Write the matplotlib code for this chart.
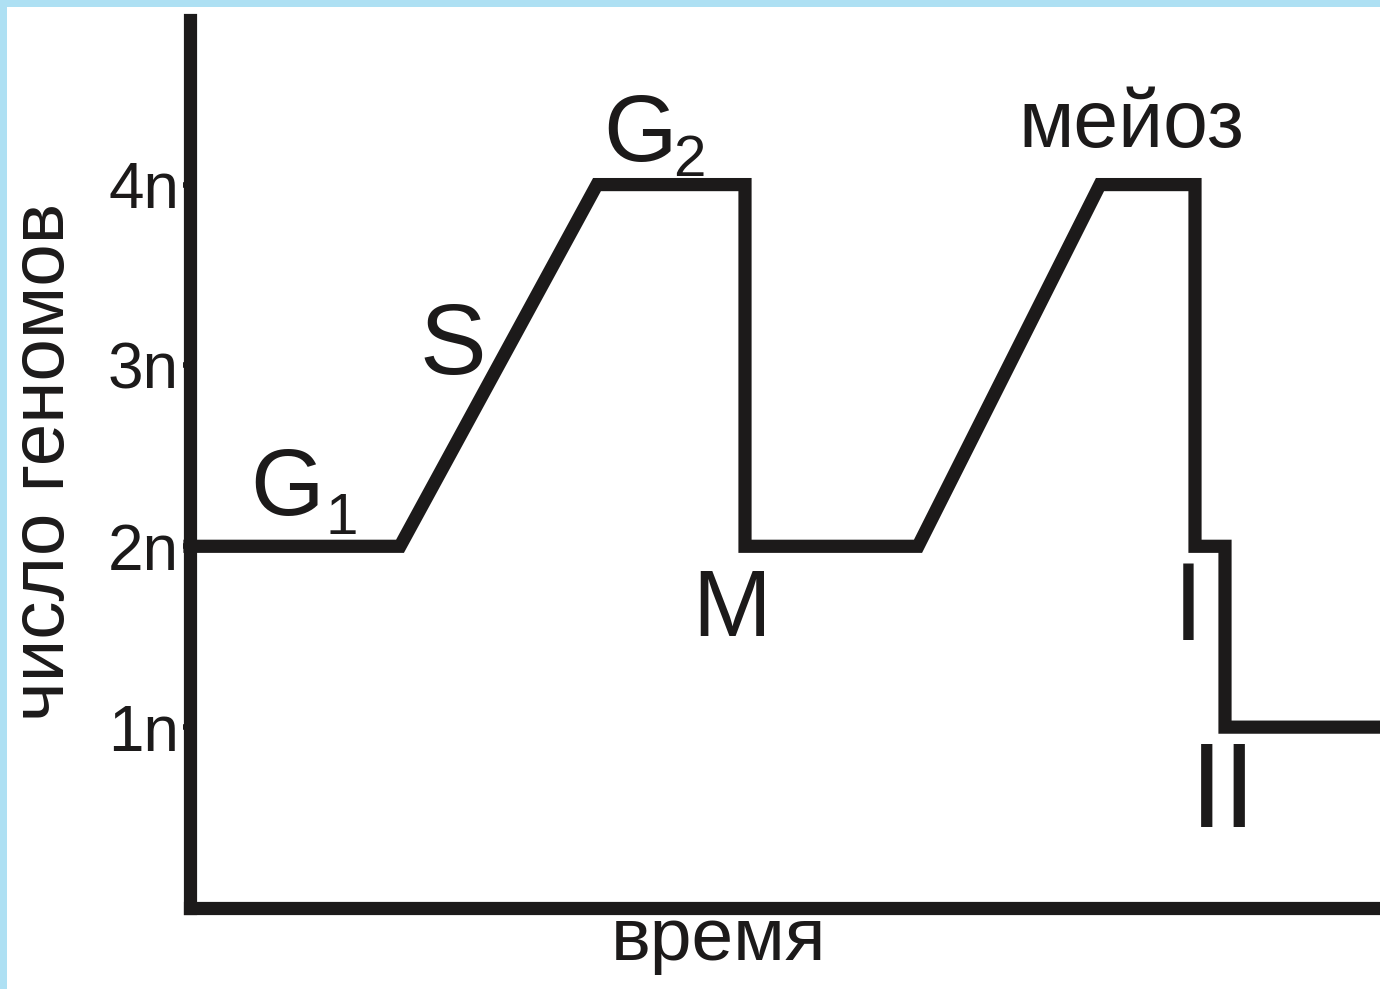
import matplotlib
matplotlib.use('Agg')
import matplotlib.pyplot as plt
from matplotlib.patches import Rectangle

plt.rcParams['font.family'] = ['Liberation Sans', 'DejaVu Sans']

# кривая: время и число геномов (в n)
vremya = [0, 21, 40.7, 55.5, 55.5, 72.8, 91, 100.5, 100.5, 103.5, 103.5, 119]
genomy = [2, 2, 4, 4, 2, 2, 4, 4, 2, 2, 1, 1]

yticks = [1, 2, 3, 4]
ylabels = ['1n', '2n', '3n', '4n']

fig = plt.figure(figsize=(13.8, 9.89), dpi=100, facecolor='#aee0f3')
fig.patches.append(Rectangle((7 / 1380, 0), 1, (989 - 7) / 989,
                             transform=fig.transFigure, facecolor='white',
                             edgecolor='none', zorder=-10))

ax = fig.add_axes([190 / 1380, 81 / 989, 1 - 190 / 1380, (908 - 20) / 989])
ax.set_facecolor('none')
ax.plot(vremya, genomy, color='#1c1a1a', lw=9.5, solid_joinstyle='miter',
        clip_on=False)

ax.set_xlim(0, 119)
ax.set_ylim(0.0, 4.91)
for s in ['top', 'right']:
    ax.spines[s].set_visible(False)
for s in ['left', 'bottom']:
    ax.spines[s].set_linewidth(9.5)
    ax.spines[s].set_color('#1c1a1a')
ax.set_xticks([])
ax.set_yticks(yticks)
ax.set_yticklabels(ylabels, fontsize=46, color='#1c1a1a')
ax.tick_params(axis='y', direction='out', length=5, width=4, pad=3,
               color='#1c1a1a')

fig.text(45 / 1380, 1 - 462 / 989, 'число геномов', fontsize=55,
         color='#1c1a1a', rotation=90, ha='center', va='center')

kw = dict(color='#1c1a1a', va='baseline', ha='left')
ax.text(52.8, -0.29, 'время', fontsize=54, color='#1c1a1a',
        va='baseline', ha='center', clip_on=False)
ax.text(6.0, 2.175, 'G', fontsize=68, **kw)
ax.text(13.5, 2.07, '1', fontsize=42, **kw)
ax.text(22.9, 2.955, 'S', fontsize=72, **kw)
ax.text(41.3, 4.13, 'G', fontsize=68, **kw)
ax.text(48.3, 4.05, '2', fontsize=42, **kw)
ax.text(50.2, 1.505, 'M', fontsize=68, **kw)
ax.text(82.8, 4.21, 'мейоз', fontsize=58, **kw)
ax.text(98.3, 1.48, 'I', fontsize=80, **kw)
ax.text(100.0, 0.45, 'II', fontsize=87, **kw)

fig.savefig('out.png', dpi=100, facecolor=fig.get_facecolor())
